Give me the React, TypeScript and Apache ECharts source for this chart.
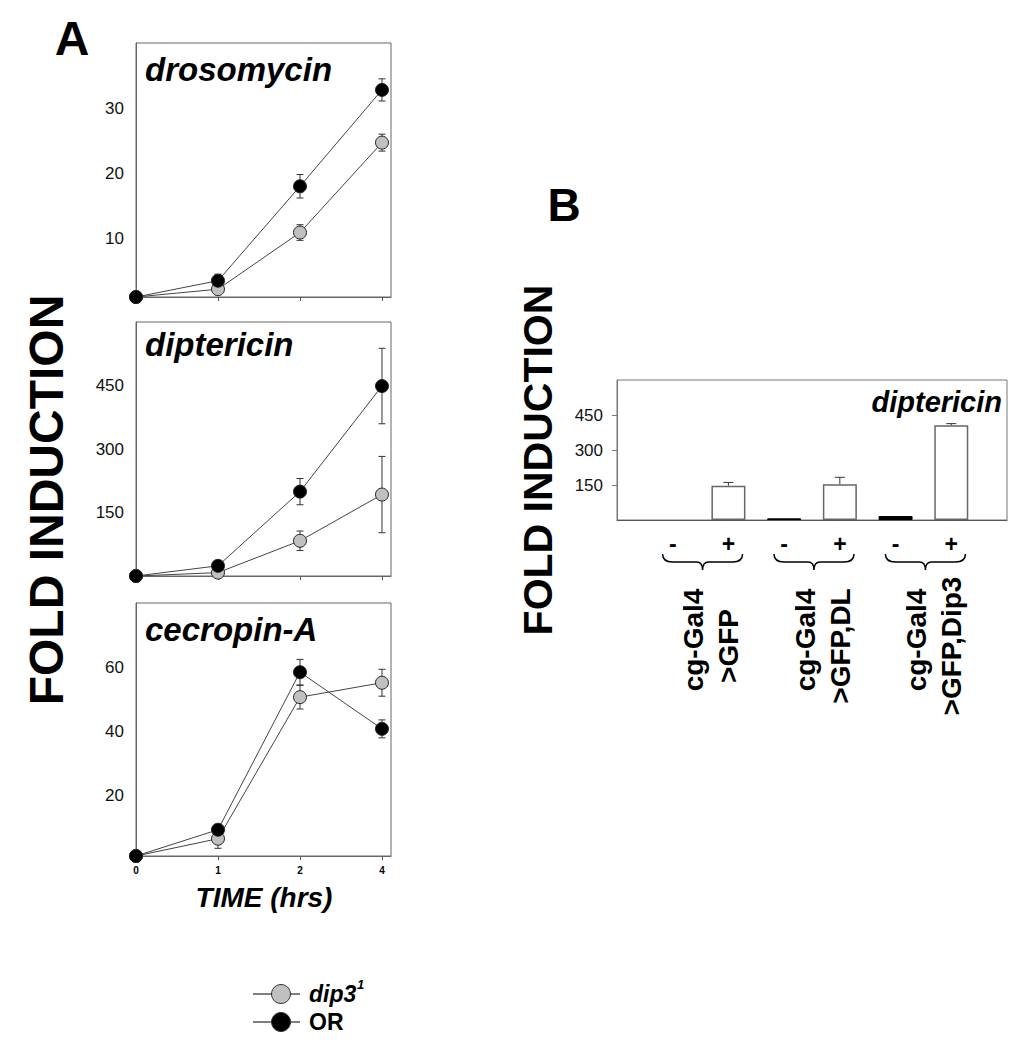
import React, { useEffect, useRef } from 'react';
import * as echarts from 'echarts';

const FONT = '"Liberation Sans", Arial, Helvetica, sans-serif';

// ---------- Panel A data ----------
const timeLabels = ['0', '1', '2', '4'];
const timePositions = [0, 1, 2, 3];
const seriesNames = ['dip3', 'OR'];
const panelTitles = ['drosomycin', 'diptericin', 'cecropin-A'];
const panelYMax = [40, 600, 80];
const panelYTicks = [[10, 20, 30], [150, 300, 450], [20, 40, 60]];

const drosomycinDip3 = [1, 2.2, 10.9, 24.7];
const drosomycinDip3Err = [0, 0.6, 1.2, 1.3];
const drosomycinOR = [1, 3.5, 18, 32.8];
const drosomycinORErr = [0, 1.0, 1.8, 1.7];

const diptericinDip3 = [1, 9, 84, 193];
const diptericinDip3Err = [0, 3, 23, 90];
const diptericinOR = [1, 25, 200, 449];
const diptericinORErr = [0, 5, 31, 89];

const cecropinDip3 = [1, 6.4, 50.6, 55.1];
const cecropinDip3Err = [0, 3, 3.7, 4.2];
const cecropinOR = [1, 9.2, 58.4, 40.7];
const cecropinORErr = [0, 1, 4, 2.8];

const panelData = [
  { dip3: drosomycinDip3, dip3Err: drosomycinDip3Err, or: drosomycinOR, orErr: drosomycinORErr },
  { dip3: diptericinDip3, dip3Err: diptericinDip3Err, or: diptericinOR, orErr: diptericinORErr },
  { dip3: cecropinDip3, dip3Err: cecropinDip3Err, or: cecropinOR, orErr: cecropinORErr },
];

// ---------- Panel B data ----------
const bTitle = 'diptericin';
const bSigns = ['-', '+', '-', '+', '-', '+'];
const bValues = [0, 147, 7, 153, 17, 406];
const bErrors = [0, 14, 0, 30, 0, 7];
const bYTicks = [150, 300, 450];
const bGroupLine1 = ['cg-Gal4', 'cg-Gal4', 'cg-Gal4'];
const bGroupLine2 = ['>GFP', '>GFP,DL', '>GFP,Dip3'];

echarts.graphic.registerShape(
  'brace',
  echarts.graphic.extendPath('M0,0 Q0,8 10,8 L34,8 Q40,8 40,16 Q40,8 46,8 L70,8 Q80,8 80,0', {})
);

const DIP3_FILL = '#c0c0c0';
const OR_FILL = '#000000';

function errRender(capHalf: number, upOnly: boolean) {
  return (params: any, api: any) => {
    const x = api.value(0);
    const lo = api.coord([x, api.value(1)]);
    const hi = api.coord([x, api.value(2)]);
    const st = { stroke: '#333', lineWidth: 1 };
    const children: any[] = [
      { type: 'line', shape: { x1: hi[0], y1: lo[1], x2: hi[0], y2: hi[1] }, style: st },
      { type: 'line', shape: { x1: hi[0] - capHalf, y1: hi[1], x2: hi[0] + capHalf, y2: hi[1] }, style: st },
    ];
    if (!upOnly) {
      children.push({ type: 'line', shape: { x1: lo[0] - capHalf, y1: lo[1], x2: lo[0] + capHalf, y2: lo[1] }, style: st });
    }
    return { type: 'group', children };
  };
}

export default function App() {
  const ref = useRef<HTMLDivElement>(null);

  useEffect(() => {
    if (!ref.current) return;
    const chart = echarts.init(ref.current, null, { renderer: 'svg' });

    const gridsA = [
      { left: 136, top: 43, width: 255, height: 254 },
      { left: 136, top: 322, width: 255, height: 254 },
      { left: 136, top: 603, width: 255, height: 253 },
    ];
    const grid: any[] = gridsA.map((g) => ({ ...g, show: true, borderColor: '#666', borderWidth: 1 }));
    grid.push({ left: 617, top: 380, width: 390, height: 140, show: true, borderColor: '#777', borderWidth: 1 });

    const xAxis: any[] = gridsA.map((_, i) => ({
      type: 'value',
      gridIndex: i,
      min: 0,
      max: 3.11,
      axisLine: { show: true, lineStyle: { color: '#666', width: 1 } },
      splitLine: { show: false },
      axisTick: { show: true, length: 4, customValues: timePositions, lineStyle: { color: '#555' } },
      axisLabel: {
        show: i === 2,
        customValues: timePositions,
        formatter: (v: number) => timeLabels[timePositions.indexOf(v)] ?? '',
        fontSize: 10,
        fontWeight: 'bold',
        color: '#000',
        fontFamily: FONT,
        margin: 9,
      },
    }));
    xAxis.push({
      type: 'value',
      gridIndex: 3,
      min: 0,
      max: 7,
      axisLine: { show: true, lineStyle: { color: '#555', width: 1 } },
      splitLine: { show: false },
      axisTick: { show: false },
      axisLabel: {
        customValues: bSigns.map((_, j) => j + 1),
        formatter: (v: number) => bSigns[v - 1] ?? '',
        fontSize: 23,
        fontWeight: 'bold',
        color: '#000',
        fontFamily: FONT,
        margin: 12,
      },
    });

    const yAxis: any[] = gridsA.map((_, i) => ({
      type: 'value',
      gridIndex: i,
      min: 1,
      max: panelYMax[i],
      axisLine: { show: true, lineStyle: { color: '#666', width: 1 } },
      splitLine: { show: false },
      axisTick: { show: false },
      axisLabel: {
        customValues: panelYTicks[i],
        fontSize: 17,
        color: '#111',
        fontFamily: FONT,
        margin: 12,
      },
    }));
    yAxis.push({
      type: 'value',
      gridIndex: 3,
      min: 0,
      max: 600,
      axisLine: { show: true, lineStyle: { color: '#777', width: 1 } },
      splitLine: { show: false },
      axisTick: { show: true, length: 5, customValues: bYTicks, lineStyle: { color: '#777' } },
      axisLabel: { customValues: bYTicks, fontSize: 17, color: '#111', fontFamily: FONT, margin: 14 },
    });

    const series: any[] = [];
    panelData.forEach((d, i) => {
      const groups = [
        { name: seriesNames[0], vals: d.dip3, errs: d.dip3Err, fill: DIP3_FILL },
        { name: seriesNames[1], vals: d.or, errs: d.orErr, fill: OR_FILL },
      ];
      groups.forEach((g) => {
        series.push({
          type: 'custom',
          xAxisIndex: i,
          yAxisIndex: i,
          renderItem: errRender(3.5, false),
          data: timePositions
            .map((x, j) => [x, g.vals[j] - g.errs[j], g.vals[j] + g.errs[j]])
            .filter((_, j) => g.errs[j] > 0),
          z: 2,
          silent: true,
        });
      });
      groups.forEach((g) => {
        series.push({
          type: 'line',
          name: g.name,
          xAxisIndex: i,
          yAxisIndex: i,
          data: timePositions.map((x, j) => [x, g.vals[j]]),
          symbol: 'circle',
          symbolSize: 13,
          showAllSymbol: true,
          lineStyle: { color: '#444', width: 1 },
          itemStyle: { color: g.fill, borderColor: '#222', borderWidth: 1 },
          z: 3,
          silent: true,
        });
      });
    });

    series.push({
      type: 'custom',
      xAxisIndex: 3,
      yAxisIndex: 3,
      renderItem: errRender(5, true),
      data: bValues.map((v, j) => [j + 1, v, v + bErrors[j]]).filter((_, j) => bErrors[j] > 0),
      z: 2,
      silent: true,
    });
    series.push({
      type: 'bar',
      xAxisIndex: 3,
      yAxisIndex: 3,
      barWidth: 34,
      data: bValues.map((v, j) => ({
        value: [j + 1, v],
        itemStyle:
          v === 0
            ? { color: 'transparent', borderWidth: 0 }
            : bSigns[j] === '-'
            ? { color: '#000', borderColor: '#000', borderWidth: 1 }
            : { color: '#fff', borderColor: '#666', borderWidth: 1.5 },
      })),
      z: 3,
      silent: true,
    });

    chart.setOption({
      animation: false,
      backgroundColor: '#fff',
      grid,
      xAxis,
      yAxis,
      series,
    });

    // ----- annotations positioned through the axes -----
    const graphic: any[] = [];
    const titleMid = [69, 344, 629];
    panelTitles.forEach((t, i) => {
      graphic.push({
        type: 'text',
        x: 145,
        y: titleMid[i],
        style: { text: t, font: `italic bold 33px ${FONT}`, fill: '#000', align: 'left', verticalAlign: 'middle' },
      });
    });
    graphic.push({
      type: 'text', x: 72, y: 38,
      style: { text: 'A', font: `bold 48px ${FONT}`, fill: '#000', align: 'center', verticalAlign: 'middle' },
    });
    graphic.push({
      type: 'text', x: 564, y: 205,
      style: { text: 'B', font: `bold 46px ${FONT}`, fill: '#000', align: 'center', verticalAlign: 'middle' },
    });
    graphic.push({
      type: 'text', x: 46, y: 500, rotation: Math.PI / 2,
      style: { text: 'FOLD INDUCTION', font: `bold 48px ${FONT}`, fill: '#000', align: 'center', verticalAlign: 'middle' },
    });
    graphic.push({
      type: 'text', x: 538, y: 460, rotation: Math.PI / 2,
      style: { text: 'FOLD INDUCTION', font: `bold 41px ${FONT}`, fill: '#000', align: 'center', verticalAlign: 'middle' },
    });
    graphic.push({
      type: 'text', x: 264, y: 897,
      style: { text: 'TIME (hrs)', font: `italic bold 28px ${FONT}`, fill: '#000', align: 'center', verticalAlign: 'middle' },
    });
    graphic.push({
      type: 'text', x: 1002, y: 402,
      style: { text: bTitle, font: `italic bold 29px ${FONT}`, fill: '#000', align: 'right', verticalAlign: 'middle' },
    });

    // braces and group labels under panel B
    bGroupLine1.forEach((l1, g) => {
      const xa = chart.convertToPixel({ xAxisIndex: 3 }, 2 * g + 1) as number;
      const xb = chart.convertToPixel({ xAxisIndex: 3 }, 2 * g + 2) as number;
      const mid = (xa + xb) / 2;
      graphic.push({
        type: 'brace',
        x: mid - 38,
        y: 554,
        style: { stroke: '#000', fill: 'none', lineWidth: 1.5 },
      });
      graphic.push({
        type: 'text', x: mid - 7, y: 640, rotation: Math.PI / 2,
        style: { text: l1, font: `bold 28px ${FONT}`, fill: '#000', align: 'center', verticalAlign: 'middle' },
      });
      graphic.push({
        type: 'text', x: mid + 28, y: 646, rotation: Math.PI / 2,
        style: { text: bGroupLine2[g], font: `bold 28px ${FONT}`, fill: '#000', align: 'center', verticalAlign: 'middle' },
      });
    });

    // legend
    const legendRows = [
      { name: seriesNames[0], fill: DIP3_FILL, y: 994, italic: true, sup: '1' },
      { name: seriesNames[1], fill: OR_FILL, y: 1022, italic: false, sup: '' },
    ];
    legendRows.forEach((r) => {
      graphic.push({ type: 'line', shape: { x1: 253, y1: r.y, x2: 300, y2: r.y }, style: { stroke: '#000', lineWidth: 1 } });
      graphic.push({ type: 'circle', shape: { cx: 281, cy: r.y, r: 9.5 }, style: { fill: r.fill, stroke: '#333', lineWidth: 1 } });
      graphic.push({
        type: 'text', x: 309, y: r.y,
        style: {
          text: r.name,
          font: `${r.italic ? 'italic ' : ''}bold 23px ${FONT}`,
          fill: '#000', align: 'left', verticalAlign: 'middle',
        },
      });
      if (r.sup) {
        graphic.push({
          type: 'text', x: 357, y: r.y - 10,
          style: { text: r.sup, font: `italic bold 13px ${FONT}`, fill: '#000', align: 'left', verticalAlign: 'middle' },
        });
      }
    });

    chart.setOption({ graphic });

    return () => chart.dispose();
  }, []);

  return (
    <div
      ref={ref}
      style={{ position: 'absolute', left: 0, top: 0, width: 1026, height: 1053, background: '#fff' }}
    />
  );
}
